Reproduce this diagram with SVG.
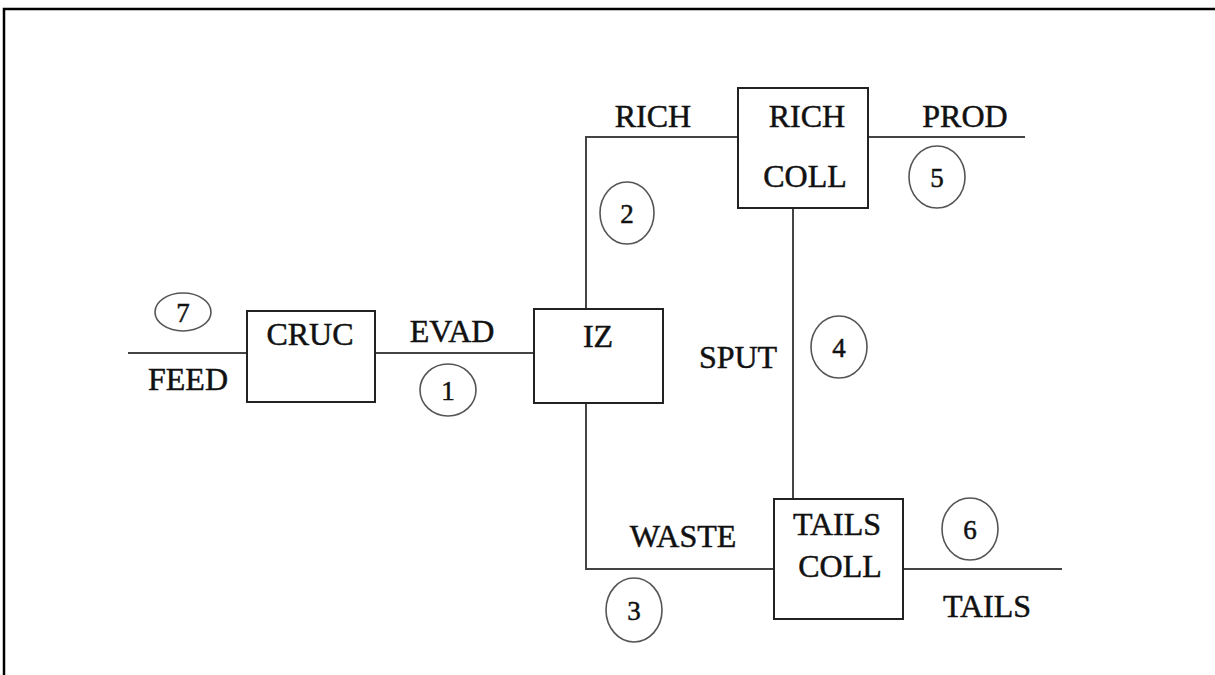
<svg xmlns="http://www.w3.org/2000/svg" width="1215" height="675" viewBox="0 0 1215 675">
<style>
.box{fill:#fff;stroke:#222;stroke-width:2}
.ln{fill:none;stroke:#444;stroke-width:2}
.num{fill:none;stroke:#555;stroke-width:1.6}
text{font-family:"Liberation Serif","Times New Roman",serif;fill:#111;stroke:#111;stroke-width:0.5;text-anchor:middle}
.t{font-size:32px}
.n{font-size:27px}
</style>
<rect width="1215" height="675" fill="#fff"/>
<path d="M4 675V9H1215" fill="none" stroke="#000" stroke-width="2.5"/>
<g id="connectors">
<path class="ln" d="M128 353H247"/>
<path class="ln" d="M375 353H535"/>
<path class="ln" d="M586 309V137H738"/>
<path class="ln" d="M868 137H1025"/>
<path class="ln" d="M793 208V499"/>
<path class="ln" d="M586 403V569H774"/>
<path class="ln" d="M903 569H1062" stroke-width="2.5" stroke="#222"/>
</g>
<g id="labels">
<text class="t" x="188" y="390">FEED</text>
<text class="t" x="452" y="342">EVAD</text>
<text class="t" x="653" y="127">RICH</text>
<text class="t" x="965" y="127">PROD</text>
<text class="t" x="738" y="368">SPUT</text>
<text class="t" x="683" y="547">WASTE</text>
<text class="t" x="987" y="617">TAILS</text>
</g>
<g id="n7"><ellipse class="num" cx="183" cy="312" rx="28" ry="19"/><text class="n" x="183" y="322">7</text></g>
<g id="n1"><ellipse class="num" cx="448" cy="390" rx="28" ry="26"/><text class="n" x="448" y="400">1</text></g>
<g id="n2"><ellipse class="num" cx="627" cy="213" rx="27" ry="31"/><text class="n" x="627" y="223">2</text></g>
<g id="n5"><ellipse class="num" cx="937" cy="177" rx="28" ry="31"/><text class="n" x="937" y="187">5</text></g>
<g id="n4"><ellipse class="num" cx="839" cy="347" rx="28" ry="31"/><text class="n" x="839" y="357">4</text></g>
<g id="n3"><ellipse class="num" cx="634" cy="610" rx="28" ry="32"/><text class="n" x="634" y="620">3</text></g>
<g id="n6"><ellipse class="num" cx="970" cy="529" rx="28" ry="31"/><text class="n" x="970" y="539">6</text></g>
<g id="cruc"><rect class="box" x="247" y="311" width="128" height="91"/><text class="t" x="310" y="345">CRUC</text></g>
<g id="iz"><rect class="box" x="534" y="309" width="129" height="94"/><text class="t" x="598" y="347">IZ</text></g>
<g id="richcoll"><rect class="box" x="738" y="88" width="130" height="120"/><text class="t" x="807" y="127">RICH</text><text class="t" x="805" y="187">COLL</text></g>
<g id="tailscoll"><rect class="box" x="774" y="499" width="129" height="120"/><text class="t" x="837" y="535">TAILS</text><text class="t" x="840" y="577">COLL</text></g>
</svg>
